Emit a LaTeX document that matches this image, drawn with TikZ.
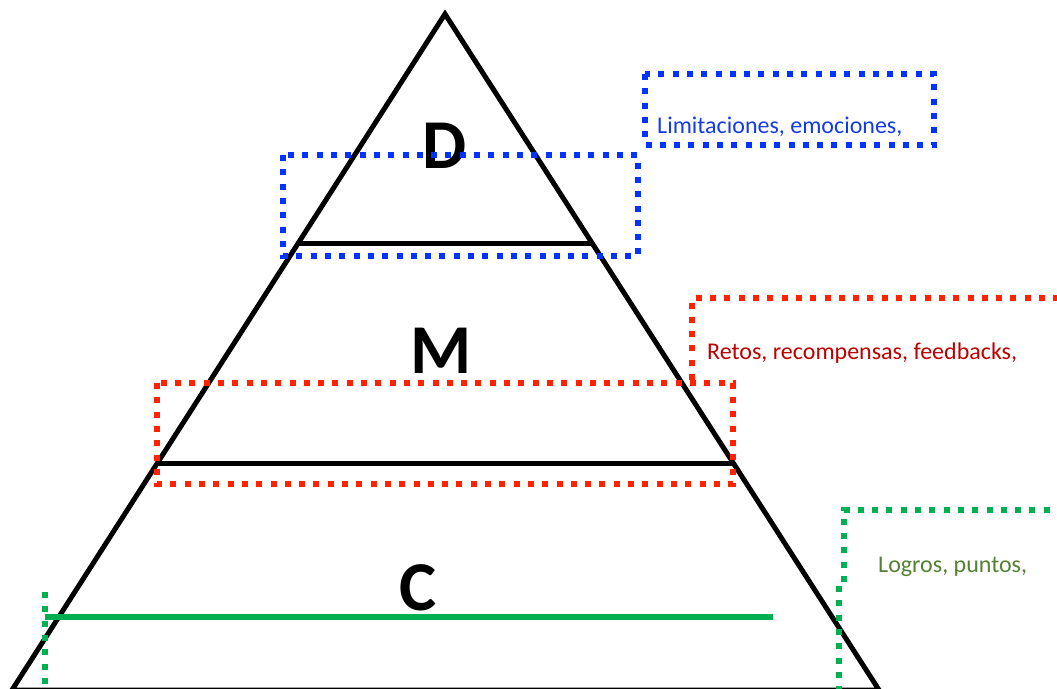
\documentclass[tikz,border=0pt]{standalone}
\usepackage{fontspec}
\setmainfont{Carlito}
\definecolor{dblue}{RGB}{0,51,255}
\definecolor{dred}{RGB}{255,34,0}
\definecolor{dgreen}{RGB}{0,176,80}
\definecolor{tblue}{RGB}{20,60,230}
\definecolor{tred}{RGB}{192,0,0}
\definecolor{tgreen}{RGB}{84,130,53}
\begin{document}
\begin{tikzpicture}[x=1pt,y=-1pt,
  tri/.style={line width=5pt, black},
  dots/.style={line width=6pt, dash pattern=on 6pt off 8.3pt},
  big/.style={font=\fontsize{70}{70}\selectfont\bfseries, inner sep=0pt},
  lbl/.style={font=\fontsize{24}{26}\selectfont, anchor=base west, inner sep=0pt}]
\useasboundingbox (0,0) rectangle (1057,688);
\fill[white] (0,0) rectangle (1057,688);
% triangle
\coordinate (apex) at (445,14);
\coordinate (bl) at (12,690);
\coordinate (br) at (879,690);
\draw[tri, line join=miter] (bl) -- (apex) -- (br) -- cycle;
\coordinate (dl) at (298,243);
\coordinate (dr) at (592,243);
\coordinate (ml) at (157,463);
\coordinate (mr) at (733,463);
\draw[tri] (dl) -- (dr);
\draw[tri] (ml) -- (mr);
\coordinate (gl) at (45,617);
\coordinate (gr) at (773,617);
\draw[line width=6pt, dgreen] (gl) -- (gr);
% letters
\node[big, anchor=base] (D) at (445,168) {D};
\node[big, anchor=base] (M) at (441,373) {M};
\node[big, anchor=base] (C) at (418,610) {C};
% blue boxes
\draw[dots, dblue] (283,155) rectangle (638,256);
\draw[dots, dblue] (645,74) rectangle (934,145);
\node[lbl, text=tblue] (t1) at (657,133) {Limitaciones, emociones,};
% red boxes
\draw[dots, dred] (157,383) rectangle (733,484);
\draw[dots, dred] (692,380) -- (692,298) -- (1060,298);
\node[lbl, text=tred] (t2) at (707,359) {Retos, recompensas, feedbacks,};
% green boxes
\draw[dots, dgreen] (45,592) -- (45,692);
\draw[dots, dgreen] (839,586) -- (839,692);
\draw[dots, dgreen] (844,582) -- (844,510) -- (1060,510);
\node[lbl, text=tgreen] (t3) at (878,572) {Logros, puntos,};
\end{tikzpicture}
\end{document}
